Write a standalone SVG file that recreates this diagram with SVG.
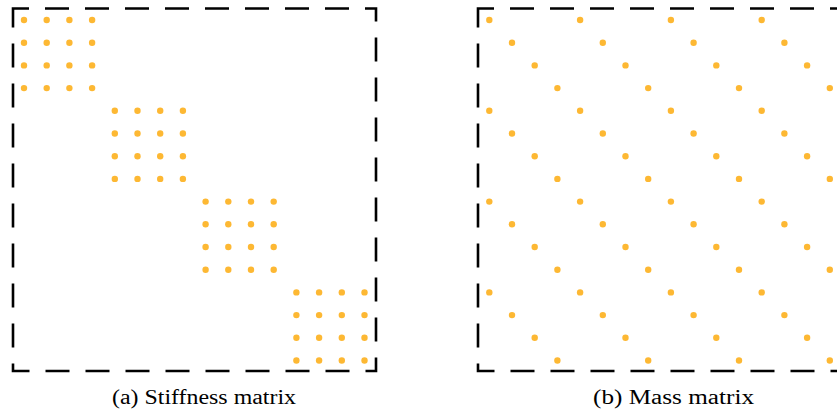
<svg xmlns="http://www.w3.org/2000/svg" xmlns:xlink="http://www.w3.org/1999/xlink" width="837" height="412" viewBox="0 0 837 412">
  <style>
    .frame { fill: none; stroke: #000; stroke-width: 2.6; stroke-dasharray: 24 16; stroke-dashoffset: 8; }
    .dot { fill: #FDB833; }
    .cap { font-family: "Liberation Serif", "DejaVu Serif", serif; font-size: 20px; fill: #000; }
  </style>
  <defs>
    <circle id="d" class="dot" r="3.2" cx="0" cy="0"/>
    <g id="blk">
      <use xlink:href="#d" x="0" y="0"/><use xlink:href="#d" x="22.7" y="0"/><use xlink:href="#d" x="45.4" y="0"/><use xlink:href="#d" x="68.1" y="0"/>
      <use xlink:href="#d" x="0" y="22.7"/><use xlink:href="#d" x="22.7" y="22.7"/><use xlink:href="#d" x="45.4" y="22.7"/><use xlink:href="#d" x="68.1" y="22.7"/>
      <use xlink:href="#d" x="0" y="45.4"/><use xlink:href="#d" x="22.7" y="45.4"/><use xlink:href="#d" x="45.4" y="45.4"/><use xlink:href="#d" x="68.1" y="45.4"/>
      <use xlink:href="#d" x="0" y="68.1"/><use xlink:href="#d" x="22.7" y="68.1"/><use xlink:href="#d" x="45.4" y="68.1"/><use xlink:href="#d" x="68.1" y="68.1"/>
    </g>
    <g id="diag">
      <use xlink:href="#d" x="0" y="0"/><use xlink:href="#d" x="22.7" y="22.7"/><use xlink:href="#d" x="45.4" y="45.4"/><use xlink:href="#d" x="68.1" y="68.1"/>
    </g>
  </defs>

  <g id="stiffness">
    <path class="frame" d="M13,8.5 H376 V371 H13 Z"/>
    <g transform="translate(24,20)">
      <use xlink:href="#blk" x="0" y="0"/>
      <use xlink:href="#blk" x="90.8" y="90.8"/>
      <use xlink:href="#blk" x="181.6" y="181.6"/>
      <use xlink:href="#blk" x="272.4" y="272.4"/>
    </g>
    <text class="cap" x="112" y="404" textLength="184" lengthAdjust="spacingAndGlyphs">(a) Stiffness matrix</text>
  </g>

  <g id="mass">
    <path class="frame" d="M478,8.5 H841 V371 H478 Z"/>
    <g transform="translate(489.3,20)">
      <use xlink:href="#diag" x="0" y="0"/><use xlink:href="#diag" x="90.8" y="0"/><use xlink:href="#diag" x="181.6" y="0"/><use xlink:href="#diag" x="272.4" y="0"/>
      <use xlink:href="#diag" x="0" y="90.8"/><use xlink:href="#diag" x="90.8" y="90.8"/><use xlink:href="#diag" x="181.6" y="90.8"/><use xlink:href="#diag" x="272.4" y="90.8"/>
      <use xlink:href="#diag" x="0" y="181.6"/><use xlink:href="#diag" x="90.8" y="181.6"/><use xlink:href="#diag" x="181.6" y="181.6"/><use xlink:href="#diag" x="272.4" y="181.6"/>
      <use xlink:href="#diag" x="0" y="272.4"/><use xlink:href="#diag" x="90.8" y="272.4"/><use xlink:href="#diag" x="181.6" y="272.4"/><use xlink:href="#diag" x="272.4" y="272.4"/>
    </g>
    <text class="cap" x="593" y="404" textLength="161" lengthAdjust="spacingAndGlyphs">(b) Mass matrix</text>
  </g>
</svg>
